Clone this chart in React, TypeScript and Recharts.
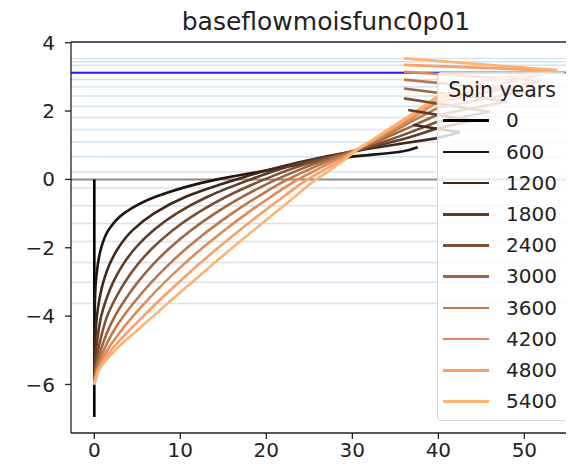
import React from 'react';
import { LineChart, Line, XAxis, YAxis, ReferenceLine } from 'recharts';

const FONT = '"DejaVu Sans", Verdana, sans-serif';

const spinYears = ['0', '600', '1200', '1800', '2400', '3000', '3600', '4200', '4800', '5400'];
const lineColors = ['#000000', '#20140d', '#3f2819', '#5f3c26', '#7e5033', '#9e643f', '#bd784c', '#dd8b59', '#fc9f66', '#ffb372'];

const xTicks = [0, 10, 20, 30, 40, 50];
const yTicks = [-6, -4, -2, 0, 2, 4];

const layerLines = [3.54, 3.44, 3.34, 3.14, 2.92, 2.71, 2.44, 2.14, 1.81, 1.46, 1.09, 0.66, 0.22, -0.25, -0.77, -1.29, -1.82, -2.43, -3.01, -3.63];
const blueLevel = 3.12;

// lower profile depths shared by spun-up lines
const lowerDepths = [-6.0, -5.6, -5.0, -4.5, -4.0, -3.5, -3.0, -2.5, -2.0, -1.5, -1.0, -0.5, 0];

const spin0 = [[0, -6.95], [0, 0]];

const spin600Lower = [0, 0, 0, 0.01, 0.03, 0.08, 0.18, 0.4, 0.8, 1.6, 3.4, 7.2, 14.3];
const spin1200Lower = [0, 0.03, 0.07, 0.15, 0.3, 0.6, 1.05, 1.75, 2.8, 4.4, 6.9, 10.7, 16.5];
const spin1800Lower = [0, 0.05, 0.2, 0.45, 0.8, 1.4, 2.21, 3.31, 4.8, 6.81, 9.53, 13.22, 18.2];
const spin2400Lower = [0, 0.1, 0.45, 0.9, 1.5, 2.42, 3.57, 5.0, 6.8, 9.05, 11.87, 15.39, 19.8];
const spin3000Lower = [0, 0.15, 0.75, 1.45, 2.4, 3.63, 5.08, 6.78, 8.8, 11.18, 13.99, 17.3, 21.2];
const spin3600Lower = [0, 0.25, 1.1, 2.1, 3.4, 4.95, 6.68, 8.62, 10.8, 13.24, 15.98, 19.05, 22.5];
const spin4200Lower = [0, 0.35, 1.5, 2.9, 4.5, 6.29, 8.23, 10.33, 12.6, 15.06, 17.71, 20.59, 23.7];
const spin4800Lower = [0, 0.45, 1.95, 3.75, 5.7, 7.73, 9.86, 12.08, 14.4, 16.83, 19.37, 22.02, 24.8];
const spin5400Lower = [0, 0.5, 2.4, 4.6, 6.85, 9.1, 11.4, 13.7, 16.05, 18.45, 20.9, 23.35, 25.8];

// smooth upper continuation of each profile
const spin600Upper = [[19.8, 0.25], [24.8, 0.48], [29.8, 0.66], [35.6, 0.81], [37.6, 0.94]];
const spin1200Upper = [[19.9, 0.25], [23.8, 0.5], [30.8, 0.85], [35.8, 1.05], [39.7, 1.2]];
const spin1800Upper = [[21.0, 0.25], [24.3, 0.5], [30.6, 0.85], [35.5, 1.15], [39.8, 1.49]];
const spin2400Upper = [[22.3, 0.25], [25.2, 0.5], [30.5, 0.85], [34.8, 1.2], [38.0, 1.5], [39.8, 1.68]];
const spin3000Upper = [[23.5, 0.25], [26.1, 0.5], [30.4, 0.85], [34.2, 1.25], [38.2, 1.7], [39.8, 1.88]];
const spin3600Upper = [[24.6, 0.25], [26.9, 0.5], [30.4, 0.85], [33.7, 1.25], [37.3, 1.75], [39.8, 2.08]];
const spin4200Upper = [[25.6, 0.25], [27.6, 0.5], [30.4, 0.85], [33.3, 1.25], [36.7, 1.75], [39.8, 2.25]];
const spin4800Upper = [[26.5, 0.25], [28.3, 0.5], [30.4, 0.85], [33.0, 1.25], [36.2, 1.75], [38.5, 2.1], [39.8, 2.35]];
const spin5400Upper = [[27.3, 0.25], [28.7, 0.5], [30.5, 0.85], [32.9, 1.25], [35.9, 1.75], [38.0, 2.1], [39.8, 2.42]];

// top-layer zigzag (peak, then back to surface value)
const spin600Tip: number[][] = [];
const spin1200Tip = [[39.7, 1.2], [42.5, 1.38], [37.1, 1.59]];
const spin1800Tip = [[39.8, 1.49], [44, 1.72], [36.5, 2.03]];
const spin2400Tip = [[39.8, 1.68], [46, 1.98], [36, 2.37]];
const spin3000Tip = [[39.8, 1.88], [48, 2.28], [36, 2.66]];
const spin3600Tip = [[39.8, 2.08], [50, 2.58], [36, 2.92]];
const spin4200Tip = [[39.8, 2.25], [52, 2.88], [36, 3.15]];
const spin4800Tip = [[39.8, 2.35], [53.8, 3.18], [36, 3.35]];
const spin5400Tip = [[39.8, 2.42], [46, 2.9], [53.8, 3.2], [36, 3.54]];

const lowers = [spin600Lower, spin1200Lower, spin1800Lower, spin2400Lower, spin3000Lower, spin3600Lower, spin4200Lower, spin4800Lower, spin5400Lower];
const uppers = [spin600Upper, spin1200Upper, spin1800Upper, spin2400Upper, spin3000Upper, spin3600Upper, spin4200Upper, spin4800Upper, spin5400Upper];
const tips = [spin600Tip, spin1200Tip, spin1800Tip, spin2400Tip, spin3000Tip, spin3600Tip, spin4200Tip, spin4800Tip, spin5400Tip];

const toPts = (arr: number[][]) => arr.map(([x, y]) => ({ x, y }));

const bodyData = [
  toPts(spin0),
  ...lowers.map((lx, i) => [
    ...lowerDepths.map((y, j) => ({ x: lx[j], y })),
    ...toPts(uppers[i]),
  ]),
];
const tipData = [[], ...tips.map(toPts)];

const fmtY = (v: number) => (v < 0 ? '\u2212' + Math.abs(v) : String(v));

function LegendBox() {
  return (
    <div
      style={{
        position: 'absolute',
        left: 429,
        top: 64,
        width: 130,
        height: 349,
        boxSizing: 'border-box',
        background: 'rgba(255,255,255,0.8)',
        border: '1px solid #d6d6d6',
        borderRadius: 4,
        fontFamily: FONT,
        fontSize: 20,
        color: '#222',
      }}
    >
      <div style={{ position: 'absolute', top: 4, left: 0, width: '100%', textAlign: 'center', lineHeight: '26px', fontSize: 20.5 }}>
        Spin years
      </div>
      {spinYears.map((s, i) => (
        <div key={s} style={{ position: 'absolute', top: 47.4 + 31.2 * i - 13, left: 0, width: '100%', height: 26 }}>
          <div style={{ position: 'absolute', left: 5, top: 12, width: 46, height: 2.6, background: lineColors[i] }} />
          <span style={{ position: 'absolute', left: 68, top: 0, lineHeight: '26px' }}>{s}</span>
        </div>
      ))}
    </div>
  );
}

export default function App() {
  return (
    <div style={{ position: 'relative', width: 566, height: 463, overflow: 'hidden', background: '#fff' }}>
      <div
        style={{
          position: 'absolute',
          left: 118,
          top: 0,
          width: 400,
          height: 28,
          textAlign: 'center',
          fontFamily: FONT,
          fontSize: 25,
          lineHeight: '27px',
          color: '#222',
        }}
      >
        baseflowmoisfunc0p01
      </div>
      <LineChart width={600} height={463} margin={{ top: 34, right: 26, bottom: 0, left: 0 }}>
        <XAxis
          type="number"
          dataKey="x"
          domain={[-2.71, 56.7]}
          ticks={xTicks}
          allowDataOverflow
          height={38}
          tickSize={6}
          tickMargin={4}
          stroke="#222"
          strokeWidth={1.3}
          tick={{ fill: '#222', fontSize: 20, fontFamily: FONT }}
        />
        <YAxis
          type="number"
          dataKey="y"
          domain={[-7.42, 4.02]}
          ticks={yTicks}
          allowDataOverflow
          width={63}
          tickSize={6}
          tickMargin={10}
          stroke="#222"
          strokeWidth={1.3}
          tickFormatter={fmtY}
          tick={{ fill: '#222', fontSize: 20, fontFamily: FONT }}
        />
        {layerLines.map((v) => (
          <ReferenceLine key={'l' + v} y={v} stroke="#d3e3f1" strokeWidth={1.5} />
        ))}
        <ReferenceLine y={blueLevel} stroke="#2020ff" strokeWidth={2} />
        <ReferenceLine y={0} stroke="#8a8a8a" strokeWidth={2} />
        <ReferenceLine y={4.02} stroke="#222" strokeWidth={1.3} />
        {bodyData.map((d, i) => (
          <Line
            key={'b' + spinYears[i]}
            data={d}
            dataKey="y"
            name={spinYears[i]}
            type="monotoneY"
            stroke={lineColors[i]}
            strokeWidth={2.6}
            dot={false}
            activeDot={false}
            isAnimationActive={false}
          />
        ))}
        {tipData.map((d, i) =>
          d.length ? (
            <Line
              key={'t' + spinYears[i]}
              data={d}
              dataKey="y"
              name={spinYears[i] + ' top'}
              type="linear"
              stroke={lineColors[i]}
              strokeWidth={2.6}
              dot={false}
              activeDot={false}
              isAnimationActive={false}
            />
          ) : null
        )}
      </LineChart>
      <LegendBox />
    </div>
  );
}
